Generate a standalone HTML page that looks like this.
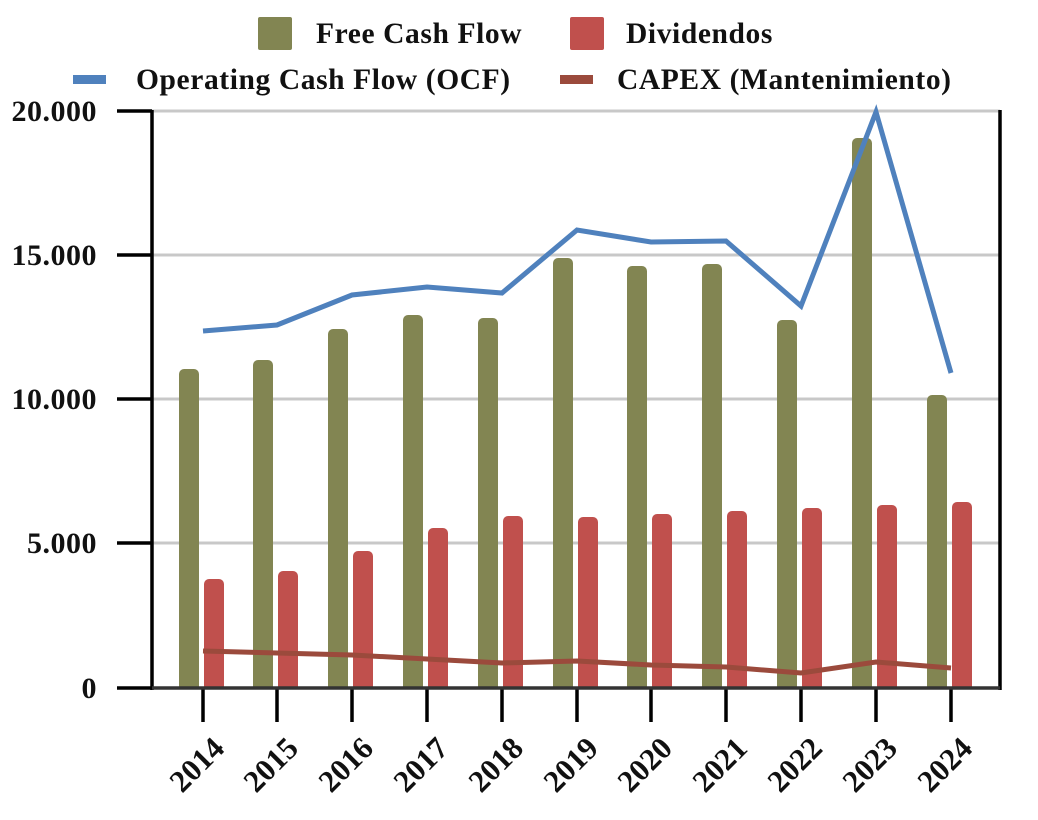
<!DOCTYPE html>
<html><head><meta charset="utf-8"><style>
html,body{margin:0;padding:0;background:#fff;}
svg{display:block;font-family:"Liberation Serif",serif;font-weight:bold;fill:#111;}
</style></head><body>
<svg width="1038" height="820" viewBox="0 0 1038 820">
<g stroke="#c8c8c8" stroke-width="3">
<line x1="152" y1="111" x2="1000" y2="111"/>
<line x1="152" y1="255" x2="1000" y2="255"/>
<line x1="152" y1="399" x2="1000" y2="399"/>
<line x1="152" y1="543" x2="1000" y2="543"/>
</g>
<g fill="#828552">
<path d="M179,688V374a5,5 0 0 1 5,-5h10a5,5 0 0 1 5,5V688z"/>
<path d="M253,688V365a5,5 0 0 1 5,-5h10a5,5 0 0 1 5,5V688z"/>
<path d="M328,688V334a5,5 0 0 1 5,-5h10a5,5 0 0 1 5,5V688z"/>
<path d="M403,688V320a5,5 0 0 1 5,-5h10a5,5 0 0 1 5,5V688z"/>
<path d="M478,688V323a5,5 0 0 1 5,-5h10a5,5 0 0 1 5,5V688z"/>
<path d="M553,688V263a5,5 0 0 1 5,-5h10a5,5 0 0 1 5,5V688z"/>
<path d="M627,688V271a5,5 0 0 1 5,-5h10a5,5 0 0 1 5,5V688z"/>
<path d="M702,688V269a5,5 0 0 1 5,-5h10a5,5 0 0 1 5,5V688z"/>
<path d="M777,688V325a5,5 0 0 1 5,-5h10a5,5 0 0 1 5,5V688z"/>
<path d="M852,688V143a5,5 0 0 1 5,-5h10a5,5 0 0 1 5,5V688z"/>
<path d="M927,688V400a5,5 0 0 1 5,-5h10a5,5 0 0 1 5,5V688z"/>
</g>
<g fill="#c0504d">
<path d="M204,688V584a5,5 0 0 1 5,-5h10a5,5 0 0 1 5,5V688z"/>
<path d="M278,688V576a5,5 0 0 1 5,-5h10a5,5 0 0 1 5,5V688z"/>
<path d="M353,688V556a5,5 0 0 1 5,-5h10a5,5 0 0 1 5,5V688z"/>
<path d="M428,688V533a5,5 0 0 1 5,-5h10a5,5 0 0 1 5,5V688z"/>
<path d="M503,688V521a5,5 0 0 1 5,-5h10a5,5 0 0 1 5,5V688z"/>
<path d="M578,688V522a5,5 0 0 1 5,-5h10a5,5 0 0 1 5,5V688z"/>
<path d="M652,688V519a5,5 0 0 1 5,-5h10a5,5 0 0 1 5,5V688z"/>
<path d="M727,688V516a5,5 0 0 1 5,-5h10a5,5 0 0 1 5,5V688z"/>
<path d="M802,688V513a5,5 0 0 1 5,-5h10a5,5 0 0 1 5,5V688z"/>
<path d="M877,688V510a5,5 0 0 1 5,-5h10a5,5 0 0 1 5,5V688z"/>
<path d="M952,688V507a5,5 0 0 1 5,-5h10a5,5 0 0 1 5,5V688z"/>
</g>
<polyline fill="none" stroke="#4f81bd" stroke-width="5" points="203,331 277,325 352,295 427,287 502,293 577,230 651,242 726,241 801,306 876,112 951,373"/>
<polyline fill="none" stroke="#9b4a3c" stroke-width="5" points="203,651 277,653 352,655 427,659 502,663 577,661 651,665 726,667 801,673 876,662 951,668"/>
<g stroke="#000" stroke-width="3.5">
<line x1="152" y1="110" x2="152" y2="690"/>
<line x1="1000" y1="110" x2="1000" y2="690"/>
<line x1="117" y1="111" x2="152" y2="111"/>
<line x1="117" y1="255" x2="152" y2="255"/>
<line x1="117" y1="399" x2="152" y2="399"/>
<line x1="117" y1="543" x2="152" y2="543"/>
<line x1="117" y1="688" x2="152" y2="688"/>
<line x1="203" y1="688" x2="203" y2="722"/><line x1="277" y1="688" x2="277" y2="722"/><line x1="352" y1="688" x2="352" y2="722"/><line x1="427" y1="688" x2="427" y2="722"/><line x1="502" y1="688" x2="502" y2="722"/><line x1="577" y1="688" x2="577" y2="722"/><line x1="651" y1="688" x2="651" y2="722"/><line x1="726" y1="688" x2="726" y2="722"/><line x1="801" y1="688" x2="801" y2="722"/><line x1="876" y1="688" x2="876" y2="722"/><line x1="951" y1="688" x2="951" y2="722"/>
</g>
<line x1="152" y1="688" x2="1000" y2="688" stroke="#333" stroke-width="3.5"/>
<g font-size="30" text-anchor="end" letter-spacing="0.5">
<text x="97" y="121">20.000</text>
<text x="97" y="265">15.000</text>
<text x="97" y="409">10.000</text>
<text x="97" y="553">5.000</text>
<text x="97" y="698">0</text>
</g>
<g font-size="31" text-anchor="end">
<text transform="translate(226,750) rotate(-45)">2014</text>
<text transform="translate(300,750) rotate(-45)">2015</text>
<text transform="translate(375,750) rotate(-45)">2016</text>
<text transform="translate(450,750) rotate(-45)">2017</text>
<text transform="translate(525,750) rotate(-45)">2018</text>
<text transform="translate(600,750) rotate(-45)">2019</text>
<text transform="translate(674,750) rotate(-45)">2020</text>
<text transform="translate(749,750) rotate(-45)">2021</text>
<text transform="translate(824,750) rotate(-45)">2022</text>
<text transform="translate(899,750) rotate(-45)">2023</text>
<text transform="translate(974,750) rotate(-45)">2024</text>
</g>
<g font-size="29.5" letter-spacing="0.6">
<rect x="258" y="17" width="34" height="33" rx="2" fill="#828552"/>
<text x="316" y="43">Free Cash Flow</text>
<rect x="570" y="17" width="34" height="33" rx="2" fill="#c0504d"/>
<text x="626" y="43">Dividendos</text>
<rect x="73" y="75" width="33" height="9" fill="#4f81bd"/>
<text x="136" y="89">Operating Cash Flow (OCF)</text>
<rect x="560" y="75" width="33" height="9" fill="#9b4a3c"/>
<text x="617" y="89">CAPEX (Mantenimiento)</text>
</g>
</svg>
</body></html>
